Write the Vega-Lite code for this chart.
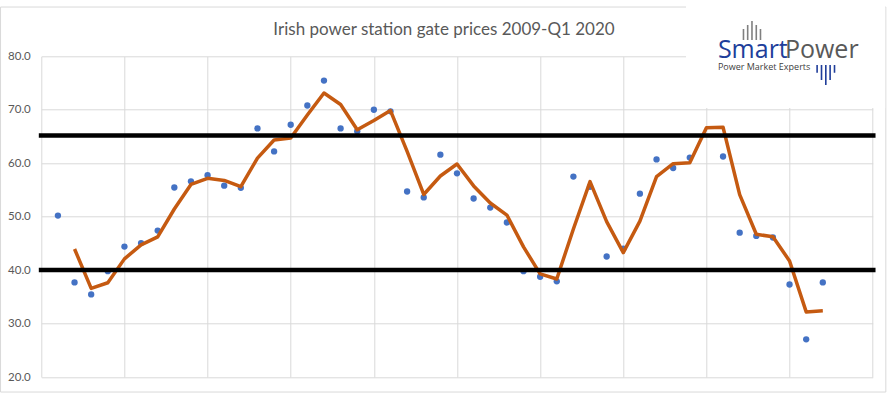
{
  "$schema": "https://vega.github.io/schema/vega-lite/v6.json",
  "width": 831.4,
  "height": 320.7,
  "autosize": {"type": "none"},
  "padding": {"left": 41.3, "top": 56.3, "right": 15.3, "bottom": 16},
  "background": "white",
  "config": {"view": {"stroke": null}},
  "data": {
    "values": [
      {"q": 1, "price": 50.2, "ma": null},
      {"q": 2, "price": 37.7, "ma": 43.95},
      {"q": 3, "price": 35.45, "ma": 36.58},
      {"q": 4, "price": 39.8, "ma": 37.63},
      {"q": 5, "price": 44.4, "ma": 42.1},
      {"q": 6, "price": 45.05, "ma": 44.73},
      {"q": 7, "price": 47.4, "ma": 46.23},
      {"q": 8, "price": 55.45, "ma": 51.43},
      {"q": 9, "price": 56.6, "ma": 56.03},
      {"q": 10, "price": 57.75, "ma": 57.18},
      {"q": 11, "price": 55.8, "ma": 56.78},
      {"q": 12, "price": 55.4, "ma": 55.6},
      {"q": 13, "price": 66.5, "ma": 60.95},
      {"q": 14, "price": 62.2, "ma": 64.35},
      {"q": 15, "price": 67.2, "ma": 64.7},
      {"q": 16, "price": 70.8, "ma": 69.0},
      {"q": 17, "price": 75.45, "ma": 73.13},
      {"q": 18, "price": 66.5, "ma": 70.98},
      {"q": 19, "price": 66.0, "ma": 66.25},
      {"q": 20, "price": 70.0, "ma": 68.0},
      {"q": 21, "price": 69.7, "ma": 69.85},
      {"q": 22, "price": 54.7, "ma": 62.2},
      {"q": 23, "price": 53.6, "ma": 54.15},
      {"q": 24, "price": 61.6, "ma": 57.6},
      {"q": 25, "price": 58.1, "ma": 59.85},
      {"q": 26, "price": 53.4, "ma": 55.75},
      {"q": 27, "price": 51.7, "ma": 52.55},
      {"q": 28, "price": 48.9, "ma": 50.3},
      {"q": 29, "price": 39.8, "ma": 44.35},
      {"q": 30, "price": 38.75, "ma": 39.28},
      {"q": 31, "price": 37.9, "ma": 38.33},
      {"q": 32, "price": 57.5, "ma": 47.7},
      {"q": 33, "price": 55.6, "ma": 56.55},
      {"q": 34, "price": 42.55, "ma": 49.08},
      {"q": 35, "price": 44.0, "ma": 43.28},
      {"q": 36, "price": 54.3, "ma": 49.15},
      {"q": 37, "price": 60.7, "ma": 57.5},
      {"q": 38, "price": 59.1, "ma": 59.9},
      {"q": 39, "price": 61.05, "ma": 60.08},
      {"q": 40, "price": 72.2, "ma": 66.63},
      {"q": 41, "price": 61.25, "ma": 66.73},
      {"q": 42, "price": 47.0, "ma": 54.13},
      {"q": 43, "price": 46.4, "ma": 46.7},
      {"q": 44, "price": 46.1, "ma": 46.25},
      {"q": 45, "price": 37.3, "ma": 41.7},
      {"q": 46, "price": 27.05, "ma": 32.18},
      {"q": 47, "price": 37.7, "ma": 32.38}
    ]
  },
  "layer": [
    {
      "mark": {"type": "circle", "size": 40, "color": "#4472C4", "opacity": 1},
      "encoding": {
        "x": {
          "field": "q",
          "type": "quantitative",
          "scale": {"domain": [0, 50], "nice": false, "zero": false},
          "axis": {
            "values": [0, 5, 10, 15, 20, 25, 30, 35, 40, 45, 50],
            "grid": true,
            "gridColor": "#d9d9d9",
            "gridWidth": 1,
            "labels": false,
            "ticks": false,
            "domain": false,
            "title": null
          }
        },
        "y": {
          "field": "price",
          "type": "quantitative",
          "scale": {"domain": [20, 80], "nice": false, "zero": false},
          "axis": {
            "values": [20, 30, 40, 50, 60, 70, 80],
            "format": ".1f",
            "grid": true,
            "gridColor": "#d9d9d9",
            "gridWidth": 1,
            "ticks": false,
            "domain": false,
            "title": null,
            "labelColor": "#595959",
            "labelFont": "Lato",
            "labelFontSize": 11.5,
            "labelPadding": 11
          }
        }
      }
    },
    {
      "mark": {"type": "line", "color": "#C55A11", "strokeWidth": 3.5, "strokeJoin": "round"},
      "encoding": {
        "x": {"field": "q", "type": "quantitative"},
        "y": {"field": "ma", "type": "quantitative"}
      }
    },
    {
      "data": {"values": [{"level": 65.2}, {"level": 40}]},
      "mark": {"type": "rule", "color": "black", "strokeWidth": 4.5, "strokeCap": "butt"},
      "encoding": {
        "y": {"field": "level", "type": "quantitative"},
        "x": {"datum": -0.15, "type": "quantitative"},
        "x2": {"datum": 50.17}
      }
    },
    {
      "data": {"values": [{}]},
      "mark": {"type": "rect", "fill": null, "stroke": "#d9d9d9", "strokeWidth": 1},
      "encoding": {
        "x": {"datum": -2.45, "type": "quantitative"},
        "x2": {"datum": 50.79},
        "y": {"datum": 89.22, "type": "quantitative"},
        "y2": {"datum": 17.19}
      }
    },
    {
      "data": {"values": [{}]},
      "mark": {"type": "rect", "fill": "white", "stroke": null},
      "encoding": {
        "x": {"datum": 38.77, "type": "quantitative"},
        "x2": {"datum": 50.75},
        "y": {"datum": 70.33, "type": "quantitative"},
        "y2": {"datum": 90.6}
      }
    },
    {
      "data": {"values": [{"t": "Irish power station gate prices 2009-Q1 2020"}]},
      "mark": {"type": "text", "font": "Lato", "fontSize": 17, "color": "#595959", "align": "center", "baseline": "alphabetic"},
      "encoding": {
        "text": {"field": "t"},
        "x": {"datum": 24.22, "type": "quantitative"},
        "y": {"datum": 83.98, "type": "quantitative"}
      }
    },
    {
      "data": {"values": [{"t": "Smart"}]},
      "mark": {"type": "text", "font": "Open Sans", "fontSize": 25, "color": "#203E9A", "align": "left", "baseline": "alphabetic"},
      "encoding": {
        "text": {"field": "t"},
        "x": {"datum": 40.69, "type": "quantitative"},
        "y": {"datum": 79.6, "type": "quantitative"}
      }
    },
    {
      "data": {"values": [{"t": "Power"}]},
      "mark": {"type": "text", "font": "Open Sans", "fontSize": 25, "color": "#595959", "align": "left", "baseline": "alphabetic"},
      "encoding": {
        "text": {"field": "t"},
        "x": {"datum": 44.72, "type": "quantitative"},
        "y": {"datum": 79.6, "type": "quantitative"}
      }
    },
    {
      "data": {"values": [{"t": "Power Market Experts"}]},
      "mark": {"type": "text", "font": "Open Sans", "fontSize": 9, "color": "#404040", "align": "left", "baseline": "alphabetic"},
      "encoding": {
        "text": {"field": "t"},
        "x": {"datum": 40.69, "type": "quantitative"},
        "y": {"datum": 77.44, "type": "quantitative"}
      }
    },
    {
      "data": {"values": [{}]},
      "mark": {
        "type": "point",
        "shape": "M-0.85,-0.15V0.95M-0.43,-0.55V0.95M0,-0.95V0.95M0.43,-0.55V0.95M0.85,-0.15V0.95",
        "size": 400,
        "filled": false,
        "stroke": "#808080",
        "strokeWidth": 1.6,
        "opacity": 1
      },
      "encoding": {
        "x": {"datum": 42.74, "type": "quantitative"},
        "y": {"datum": 84.83, "type": "quantitative"}
      }
    },
    {
      "data": {"values": [{}]},
      "mark": {
        "type": "point",
        "shape": "M-0.87,-1V-0.23M-0.43,-1V0.5M0,-1V1M0.43,-1V0.5M0.87,-1V-0.23",
        "size": 400,
        "filled": false,
        "stroke": "#203E9A",
        "strokeWidth": 1.6,
        "opacity": 1
      },
      "encoding": {
        "x": {"datum": 47.18, "type": "quantitative"},
        "y": {"datum": 76.5, "type": "quantitative"}
      }
    }
  ]
}
